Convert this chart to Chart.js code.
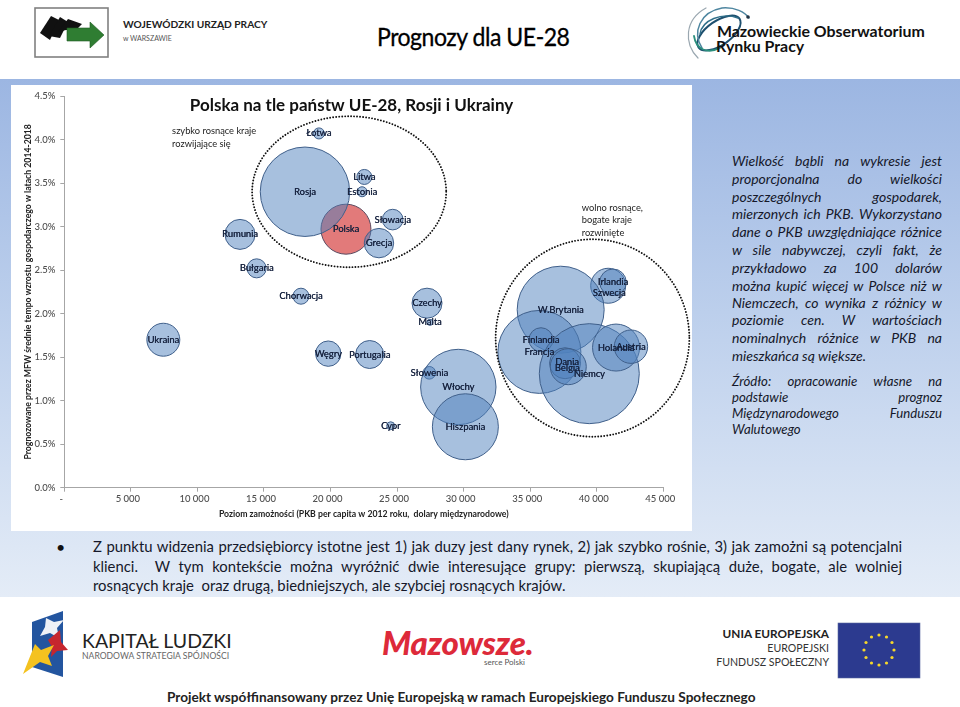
<!DOCTYPE html>
<html lang="pl"><head><meta charset="utf-8">
<script src="https://cdn.jsdelivr.net/npm/chart.js@4/dist/chart.umd.min.js"></script>
<style>
html,body{margin:0;padding:0;background:#fff;width:960px;height:707px;overflow:hidden;font-family:Lato,sans-serif;color:#111}
.abs{position:absolute;white-space:nowrap}
#panel{position:absolute;left:0;top:79px;width:960px;height:518px;background:linear-gradient(#9cb6e2 0%,#bccfec 45%,#e4ecf7 100%)}
#wrap{position:absolute;left:11px;top:85px;width:681px;height:446px;background:#fff}
.j{position:absolute;white-space:nowrap;text-align:justify;text-align-last:justify}
.l{position:absolute;white-space:pre}
</style></head><body>
<div id="panel"></div>
<div id="wrap"><canvas id="c" width="681" height="446"></canvas></div>

<div class="abs" style="left:377px;top:21px;font-size:24.5px;line-height:32px;letter-spacing:-.5px;font-weight:400;-webkit-text-stroke:.3px #000;color:#000;transform:scaleX(.94);transform-origin:left">Prognozy dla UE-28</div>

<svg class="abs" style="left:0;top:0" width="960" height="79">
  <rect x="35" y="8" width="73" height="49" fill="#fff" stroke="#808080" stroke-width="1.6"/>
  <polygon points="40,33 51,16 59,20 50,40" fill="#111"/>
  <polygon points="49,36 60,17 68,22 60,38" fill="#111"/>
  <polygon points="58,32 68,19 82,24 76,30 66,30" fill="#111"/>
  <polygon points="67,28 90,28 90,22 104,35 90,48 90,41 67,41" fill="#2f7d32" stroke="#1f5a22" stroke-width=".6"/>
  <g fill="none" stroke-linecap="round">
    <ellipse cx="719" cy="33" rx="25" ry="12" transform="rotate(-35 719 33)" stroke="#1d4f6e" stroke-width="2"/>
    <path d="M698 58C684 44 684 20 706 8" stroke="#9aa7b0" stroke-width="1.2"/>
    <path d="M702 48C692 32 700 12 722 8C735 7 745 12 749 18" stroke="#4e86a0" stroke-width="1.5"/>
    <path d="M700 34C702 20 722 12 738 18" stroke="#2f6f8a" stroke-width="1.4"/>
    <path d="M694 36C696 50 708 54 720 48" stroke="#2b8f7d" stroke-width="1.8"/>
  </g>
  <circle cx="748" cy="17" r="1.8" fill="#234"/>
</svg>
<div class="abs" style="left:123px;top:18px;font-size:10.2px;font-weight:700;line-height:12px;color:#222">WOJEWÓDZKI URZĄD PRACY</div>
<div class="abs" style="left:123px;top:33px;font-size:7px;line-height:10px;color:#555">w WARSZAWIE</div>
<div class="abs" style="left:717px;top:21px;font-size:15.9px;font-weight:700;line-height:20px;color:#111">Mazowieckie Obserwatorium</div>
<div class="abs" style="left:716px;top:36px;font-size:15.9px;font-weight:700;line-height:20px;color:#111">Rynku Pracy</div>

<div id="side"></div>
<div id="bottom"></div>
<div class="abs" style="left:56px;top:537px;font-size:16px;line-height:20px;color:#111">•</div>

<svg class="abs" style="left:0;top:597px" width="960" height="110">
  <polygon points="32,25 63,14 63,80 32,70" fill="#23559f"/>
  <polygon points="47,18 55,22 65,20 58,28 60,38 51,33 41,36 46,27" transform="translate(-1,3)" fill="#eef1f6"/>
  <polygon points="54,46 66,36 67,48 74,56 63,57 57,63 58,53" transform="translate(-6,-3)" fill="#c6262e"/>
  <polygon points="36,50 42,56 55,51 49,62 53,72 41,68 24,80 30,65" transform="translate(-1,-3)" fill="#f4c21f"/>
  <rect x="838" y="26" width="82" height="55" fill="#2c3a8f" stroke="#5a6aa0" stroke-width=".6"/>
  <g id="stars" fill="#f6d72a"></g>
</svg>
<div class="abs" style="left:82px;top:629px;font-size:19.5px;line-height:24px;color:#222">KAPITAŁ LUDZKI</div>
<div class="abs" style="left:82px;top:651px;font-size:8.6px;line-height:11px;color:#666">NARODOWA STRATEGIA SPÓJNOŚCI</div>
<div class="abs" style="left:382px;top:622px;font-size:33px;line-height:40px;font-weight:900;font-style:italic;color:#dd2a3a;letter-spacing:-.2px">Mazowsze.</div>
<div class="abs" style="left:484px;top:657px;font-size:8px;line-height:10px;color:#555">serce Polski</div>
<div class="abs" style="right:131px;top:627px;font-size:11.8px;line-height:14px;font-weight:700;color:#222">UNIA EUROPEJSKA</div>
<div class="abs" style="right:131px;top:641px;font-size:10.6px;line-height:14px;color:#333">EUROPEJSKI</div>
<div class="abs" style="right:131px;top:655px;font-size:10.6px;line-height:14px;color:#333">FUNDUSZ SPOŁECZNY</div>
<div class="abs" style="left:167px;top:689px;font-size:13.6px;line-height:16px;font-weight:700;color:#222">Projekt współfinansowany przez Unię Europejską w ramach Europejskiego Funduszu Społecznego</div>

<script>
// --- chart values ---
const panstwa = ["Łotwa","Rosja","Rumunia","Bułgaria","Chorwacja","Litwa","Estonia","Słowacja","Grecja","Czechy","Szwecja","Irlandia","W.Brytania","Malta","Portugalia","Słowenia","Włochy","Hiszpania","Cypr","Francja","Finlandia","Niemcy","Holandia","Austria","Dania","Belgia","Ukraina","Węgry"];
const pkbPerCapita = [19130,18080,13200,14450,17780,22540,22370,24670,23640,27250,40860,41220,37290,27470,22940,27420,29600,30130,24520,35690,35810,39440,41450,42570,37620,37860,7440,19830];
const tempoWzrostu = [4.07,3.40,2.91,2.52,2.20,3.57,3.40,3.08,2.81,2.12,2.32,2.36,2.045,1.90,1.53,1.32,1.157,0.70,0.712,1.56,1.70,1.31,1.61,1.62,1.43,1.39,1.70,1.54];
const pkb = [39,2558,288,116,82,72,32,136,277,288,392,226,2422,12,251,51,1819,1394,20,2204,184,3200,707,357,307,415,348,206];
const polskaNazwa = ["Polska"];
const polskaPerCapita = [21160];
const polskaTempo = [2.97];
const polskaPkb = [800];
const xTicksMax = 45000;
const yTicksMax = 4.5;
const tytulWykresu = "Polska na tle państw UE-28, Rosji i Ukrainy";
const tytulOsiX = "Poziom zamożności (PKB per capita w 2012 roku,  dolary międzynarodowe)";
const tytulOsiY = "Prognozowane przez MFW średnie tempo wzrostu gospodarczego w latach 2014-2018";
const grupy = [
  {cx:21400,cy:3.40,rx:7290,ry:0.867},
  {cx:39680,cy:1.72,rx:7275,ry:1.134}
];
const podpisyGrup = [
  {x:8100,y:4.095,lines:["szybko rosnące kraje","rozwijające się"]},
  {x:38870,y:3.217,lines:["wolno rosnące,","bogate kraje","rozwinięte"]}
];
// small label nudges (px) where the picture's labels sit off centre
const przesuniecia = {"Szwecja":[1,7],"Dania":[2,-1],"Belgia":[-1,1]};

const skala = p => Math.sqrt(p/1.28);
const blue = panstwa.map((n,i)=>({x:pkbPerCapita[i],y:tempoWzrostu[i],r:skala(pkb[i]),name:n}));
const red = polskaNazwa.map((n,i)=>({x:polskaPerCapita[i],y:polskaTempo[i],r:skala(polskaPkb[i]),name:n}));

const overlay = {
  id:'overlay',
  afterLayout(chart){ chart.titleBlock.left = 28.7; },
  afterDatasetsDraw(chart){
    const {ctx,scales:{x,y}} = chart;
    ctx.save();
    // dotted group ellipses
    ctx.strokeStyle='#111';ctx.lineWidth=1.9;ctx.lineCap='round';ctx.setLineDash([0.01,3]);
    grupy.forEach(g=>{
      ctx.beginPath();
      ctx.ellipse(x.getPixelForValue(g.cx),y.getPixelForValue(g.cy),
        x.getPixelForValue(g.cx+g.rx)-x.getPixelForValue(g.cx),
        y.getPixelForValue(g.cy)-y.getPixelForValue(g.cy+g.ry),0,0,Math.PI*2);
      ctx.stroke();
    });
    ctx.setLineDash([]);
    // bubble names
    ctx.font='9.4px Lato';ctx.fillStyle='#17233f';ctx.textAlign='center';ctx.textBaseline='middle';
    chart.data.datasets.forEach((ds,di)=>{
      chart.getDatasetMeta(di).data.forEach((el,i)=>{
        const n=ds.data[i].name, d=przesuniecia[n]||[0,0];
        ctx.fillText(n,el.x+d[0],el.y+d[1]);
        ctx.fillText(n,el.x+d[0]+.25,el.y+d[1]);
      });
    });
    // group captions
    ctx.font='9.3px Lato';ctx.fillStyle='#222';ctx.textAlign='left';
    podpisyGrup.forEach(g=>{
      const px=x.getPixelForValue(g.x),py=y.getPixelForValue(g.y);
      g.lines.forEach((t,i)=>ctx.fillText(t,px,py+i*12.8));
    });
    ctx.restore();
  }
};

new Chart(document.getElementById('c'),{
  type:'bubble',
  data:{datasets:[
    {label:'Państwa',data:blue,backgroundColor:'rgba(79,129,189,0.5)',borderColor:'#3f5f8a',borderWidth:1,clip:false},
    {label:'Polska',data:red,backgroundColor:'rgba(209,40,40,0.62)',borderColor:'#5a4a60',borderWidth:1,clip:false}
  ]},
  options:{
    responsive:false,animation:false,events:[],
    layout:{autoPadding:false,padding:{left:0,top:11,right:28.7,bottom:0}},
    plugins:{
      legend:{display:false},tooltip:{enabled:false},
      title:{display:true,text:tytulWykresu,color:'#111',font:{family:'Lato',size:17,weight:'700',lineHeight:1.2},padding:{top:-1,bottom:-19.4}}
    },
    scales:{
      x:{type:'linear',min:0,max:xTicksMax,
        border:{color:'#a6a6a6'},
        grid:{drawOnChartArea:false,drawTicks:true,tickLength:4,color:'#a6a6a6'},
        ticks:{stepSize:5000,labelOffset:-3,padding:2,maxRotation:0,color:'#4d4d4d',font:{family:'Lato',size:9.5,weight:'500'},
          callback:v=>v===0?'-':String(v).replace(/(\d)(\d{3})$/,'$1 $2')},
        title:{display:true,text:tytulOsiX,color:'#222',font:{family:'Lato',size:8.7,weight:'700'},padding:{top:0,bottom:12}},
        afterFit(s){s.height=43.3}
      },
      y:{type:'linear',min:0,max:yTicksMax,
        border:{color:'#a6a6a6'},
        grid:{drawOnChartArea:false,drawTicks:true,tickLength:4,color:'#a6a6a6'},
        ticks:{stepSize:0.5,padding:5,color:'#4d4d4d',font:{family:'Lato',size:9.5,weight:'500'},callback:v=>v.toFixed(1)+'%'},
        title:{display:true,text:tytulOsiY,color:'#222',font:{family:'Lato',size:8.7,weight:'700'},padding:{top:12,bottom:0}},
        afterFit(s){s.width=53.3}
      }
    }
  },
  plugins:[overlay]
});

// --- slide text ---
const sideLines=[
 ["Wielkość bąbli na wykresie jest",153,1],["proporcjonalna do wielkości",171,1],["poszczególnych gospodarek,",189,1],
 ["mierzonych ich PKB. Wykorzystano",206,1],["dane o PKB uwzględniające różnice",224,1],["w sile nabywczej, czyli fakt, że",242,1],
 ["przykładowo za 100 dolarów",260,1],["można kupić więcej w Polsce niż w",278,1],["Niemczech, co wynika z różnicy w",295,1],
 ["poziomie cen. W wartościach",312,1],["nominalnych różnice w PKB na",330,1],["mieszkańca są większe.",348,0]];
const srcLines=[["Źródło: opracowanie własne na",374,1],["podstawie prognoz",390,1],["Międzynarodowego Funduszu",406,1],["Walutowego",422,0]];
const bottomLines=[
 ["Z punktu widzenia przedsiębiorcy istotne jest 1) jak duzy jest dany rynek, 2) jak szybko rośnie, 3) jak zamożni są potencjalni",537,1],
 ["klienci.  W tym kontekście można wyróżnić dwie interesujące grupy: pierwszą, skupiającą duże, bogate, ale wolniej",557,1],
 ["rosnących kraje  oraz drugą, biedniejszych, ale szybciej rosnących krajów.",576,0]];
function put(host,lines,left,width,size,lh,extra){
  lines.forEach(([t,top,j])=>{
    const d=document.createElement('div');
    d.className=j?'j':'l';
    d.textContent=t;
    d.style.cssText+=`left:${left}px;top:${top}px;${j?'width:'+width+'px;':''}font-size:${size}px;line-height:${lh}px;${extra}`;
    host.appendChild(d);
  });
}
put(document.getElementById('side'),sideLines,732,210,14,16,'font-style:italic;color:#15182a;');
put(document.getElementById('side'),srcLines,732,210,13.2,15,'font-style:italic;color:#15182a;');
put(document.getElementById('bottom'),bottomLines,93,809,14.85,18,'color:#15182a;white-space:pre;');

// EU flag stars
const g=document.getElementById('stars');let s='';
for(let i=0;i<12;i++){const a=i*Math.PI/6;s+=`<circle cx="${879+15*Math.cos(a)}" cy="${53+15*Math.sin(a)}" r="1.6"/>`;}
g.innerHTML=s;
</script>
</body></html>
